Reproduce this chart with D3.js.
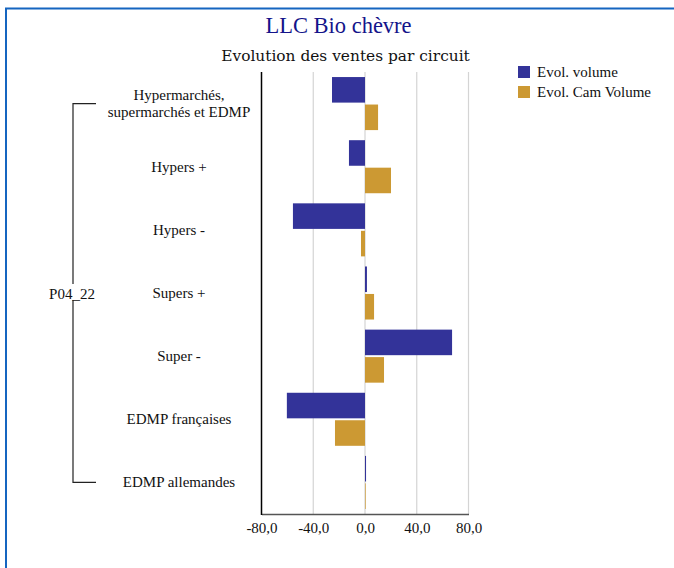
<!DOCTYPE html>
<html><head><meta charset="utf-8">
<script src="https://cdn.jsdelivr.net/npm/d3@7"></script>
<style>body{margin:0;background:#fff;} svg{display:block;}</style>
</head><body>
<script>
const categories = ["Hypermarchés,\nsupermarchés et EDMP","Hypers +","Hypers -","Supers +","Super -","EDMP françaises","EDMP allemandes"];
const evolVolume = [-25.5, -12.4, -55.7, 1.5, 67.3, -60.4, 0.8];
const evolCamVolume = [10.1, 20.1, -3.1, 7.0, 14.7, -23.2, 0.5];
const seriesNames = ["Evol. volume","Evol. Cam Volume"];
const xTicks = [-80,-40,0,40,80];
const groupLabel = "P04_22";
const colors = ["#333399","#CC9933"];

const W=674,H=568;
const font="Liberation Serif, Times New Roman, serif";
const svg=d3.select("body").append("svg").attr("width",W).attr("height",H);

// frame
svg.append("line").attr("x1",5).attr("x2",W).attr("y1",8.5).attr("y2",8.5).attr("stroke","#1565c0").attr("stroke-width",2);
svg.append("line").attr("x1",6).attr("x2",6).attr("y1",8).attr("y2",H).attr("stroke","#1565c0").attr("stroke-width",2);

svg.append("text").attr("x",338.5).attr("y",33).attr("text-anchor","middle").attr("font-family",font).attr("font-size",22.5).attr("fill","#14148a").text("LLC Bio chèvre");
svg.append("text").attr("x",345.5).attr("y",61).attr("text-anchor","middle").attr("font-family","DejaVu Serif, serif").attr("font-size",15.4).attr("fill","#111").text("Evolution des ventes par circuit");

const x=d3.scaleLinear().domain([-80,80]).range([261.5,468.5]);
const y=d3.scaleBand().domain(categories).range([72,514]).paddingInner(0.16).paddingOuter(0.08);
const y2=d3.scaleBand().domain([0,1]).range([0,y.bandwidth()]).paddingInner(0.07);

const g=svg.append("g");
// gridlines
g.selectAll("line.grid").data(xTicks.filter(d=>d!==-80)).join("line")
 .attr("x1",d=>x(d)).attr("x2",d=>x(d)).attr("y1",72).attr("y2",514)
 .attr("stroke","#d4d4d4").attr("stroke-width",1.2);

const series=[evolVolume,evolCamVolume];
series.forEach((vals,si)=>{
  g.selectAll("rect.s"+si).data(vals).join("rect")
   .attr("x",d=>x(Math.min(0,d))).attr("width",d=>Math.abs(x(d)-x(0)))
   .attr("y",(d,i)=>y(categories[i])+y2(si)).attr("height",y2.bandwidth())
   .attr("fill",colors[si]);
});

// axes
const xa=svg.append("g").attr("transform","translate(0,514)").call(d3.axisBottom(x).tickValues(xTicks).tickSize(0).tickFormat(d=>d3.format(".1f")(d).replace(".",",").replace("−","-")));
xa.select(".domain").attr("stroke","#555").attr("stroke-width",1.5);
xa.selectAll("text").attr("font-family",font).attr("font-size",15).attr("fill","#111").attr("dy","1.05em");
svg.append("line").attr("x1",261.5).attr("x2",261.5).attr("y1",72).attr("y2",515).attr("stroke","#000").attr("stroke-width",1.5);

// category labels
categories.forEach(c=>{
  const lines=c.split("\n");
  const cy=y(c)+y.bandwidth()/2;
  const t=svg.append("text").attr("text-anchor","middle").attr("font-family",font).attr("font-size",15).attr("fill","#111");
  lines.forEach((l,i)=>{
    t.append("tspan").attr("x",179).attr("y",cy+5+(i-(lines.length-1)/2)*17).text(l);
  });
});

// bracket
const topY=y(categories[0])+y.bandwidth()/2, botY=y(categories[categories.length-1])+y.bandwidth()/2;
svg.append("path").attr("d",`M96,${topY}H73V${botY}H96`).attr("fill","none").attr("stroke","#222").attr("stroke-width",1.2);
svg.append("rect").attr("x",60).attr("y",284).attr("width",28).attr("height",16).attr("fill","#fff");
svg.append("text").attr("x",72).attr("y",299).attr("text-anchor","middle").attr("font-family",font).attr("font-size",15).attr("fill","#111").text(groupLabel);

// legend
seriesNames.forEach((n,i)=>{
  svg.append("rect").attr("x",518).attr("y",66+i*20).attr("width",12).attr("height",12).attr("fill",colors[i]);
  svg.append("text").attr("x",537).attr("y",77+i*20).attr("font-family",font).attr("font-size",15).attr("fill","#111").text(n);
});
</script>
</body></html>
